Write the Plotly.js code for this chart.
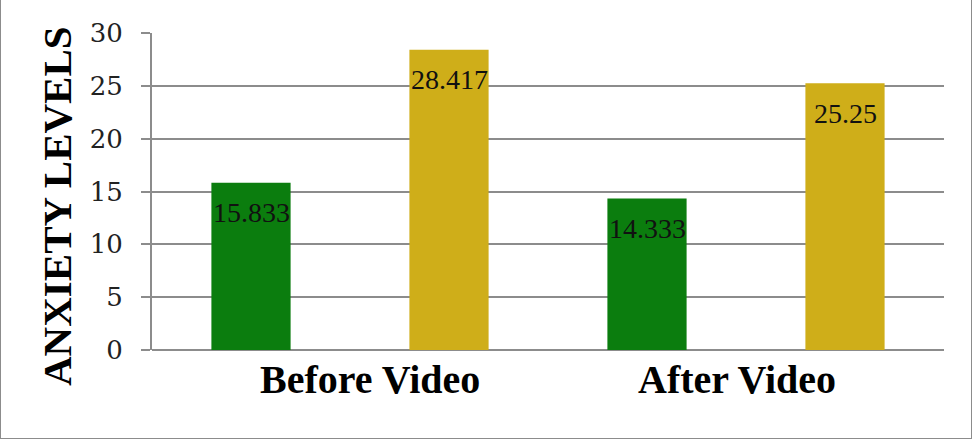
<!DOCTYPE html>
<html>
<head>
<meta charset="utf-8">
<script src="https://cdn.plot.ly/plotly-3.0.1.min.js"></script>
<style>
  html, body { margin: 0; padding: 0; background: #fff; }
  #frame {
    position: absolute; left: 0; top: 0;
    width: 970px; height: 438px;
    border-left: 1px solid #8c8c8c;
    border-right: 1px solid #8c8c8c;
    border-bottom: 1px solid #8c8c8c;
  }
  #chart { width: 970px; height: 438px; }
</style>
</head>
<body>
<div id="frame"><div id="chart"></div></div>
<script>
// Mean anxiety scores before and after watching the video
const categories = ['Before Video', 'After Video'];
const groupA = [15.833, 14.333];
const groupB = [28.417, 25.25];
const yTicks = [0, 5, 10, 15, 20, 25, 30];

const GREEN = '#0b7d0e';
const GOLD = '#cfae19';
const SERIF = 'Liberation Serif, Times New Roman, serif';

const traces = [
  { type: 'bar', name: 'Group A', x: categories, y: groupA,
    marker: { color: GREEN }, hoverinfo: 'x+y' },
  { type: 'bar', name: 'Group B', x: categories, y: groupB,
    marker: { color: GOLD }, hoverinfo: 'x+y' }
];

// value labels sit inside the top of each bar
const plotWidth = 792;
const slot = plotWidth / categories.length / 2; // width of one bar slot in px
const annotations = [];
[groupA, groupB].forEach((series, s) => {
  series.forEach((v, i) => {
    annotations.push({
      x: categories[i], y: v, xref: 'x', yref: 'y',
      text: String(v), showarrow: false,
      xshift: (s === 0 ? -1 : 1) * slot / 2,
      yshift: -30, yanchor: 'middle', xanchor: 'center',
      font: { family: SERIF, size: 28, color: '#111' }
    });
  });
});

// category captions under the axis
const captionShift = [20, -9];
categories.forEach((c, i) => {
  annotations.push({
    x: c, xref: 'x', y: 0, yref: 'paper', yanchor: 'middle',
    yshift: -29, xshift: captionShift[i], showarrow: false,
    text: '<b>' + c + '</b>',
    font: { family: SERIF, size: 40, color: '#000' }
  });
});

annotations.push({
  text: '<b>ANXIETY LEVELS</b>', textangle: -90, showarrow: false,
  xref: 'paper', yref: 'paper', x: (56.5 - 151) / plotWidth, y: (350 - 206.5) / 317,
  xanchor: 'center', yanchor: 'middle',
  font: { family: SERIF, size: 41, color: '#000' }
});

const layout = {
  width: 970, height: 438,
  margin: { l: 151, r: 27, t: 33, b: 88 },
  paper_bgcolor: '#fff', plot_bgcolor: '#fff',
  showlegend: false,
  barmode: 'group', bargap: 0, bargroupgap: 0.6,
  xaxis: {
    type: 'category',
    showgrid: false, zeroline: false,
    showline: false,
    ticks: '', showticklabels: false
  },
  yaxis: {
    range: [0, 30], tickvals: yTicks, ticktext: yTicks.map(String),
    showgrid: true, gridcolor: '#8c8c8c', gridwidth: 2,
    zeroline: true, zerolinecolor: '#8c8c8c', zerolinewidth: 2,
    showline: true, linecolor: '#8c8c8c', linewidth: 2,
    ticks: 'outside', ticklen: 9, tickwidth: 2, tickcolor: '#8c8c8c',
    ticklabelstandoff: 13,
    tickfont: { family: 'DejaVu Serif, serif', size: 26, color: '#222' }
  },
  annotations: annotations
};

Plotly.newPlot('chart', traces, layout, { displayModeBar: false, staticPlot: true });
</script>
</body>
</html>
